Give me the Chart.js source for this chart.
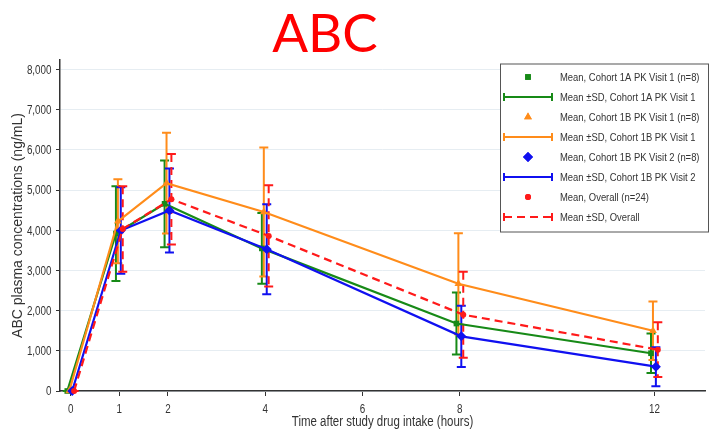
<!DOCTYPE html>
<html>
<head>
<meta charset="utf-8">
<script src="https://cdn.jsdelivr.net/npm/chart.js@4"></script>
<style>
  html, body { margin: 0; padding: 0; background: #ffffff; }
  #wrap { width: 710px; height: 432px; }
</style>
</head>
<body>
<div id="wrap"><canvas id="pk" width="710" height="432"></canvas></div>
<script>
// ---- data ----
const chartTitle = 'ABC';
const yAxisTitle = 'ABC plasma concentrations (ng/mL)';
const xAxisTitle = 'Time after study drug intake (hours)';

const timesHours = [0, 1, 2, 4, 8, 12];
const xTickValues = [0, 1, 2, 4, 6, 8, 12];
const yTickValues = [0, 1000, 2000, 3000, 4000, 5000, 6000, 7000, 8000];

const meanCohort1AVisit1 = [0, 3920, 4660, 3550, 1680, 940];
const sdCohort1AVisit1   = [0, 1180, 1080, 880, 770, 490];

const meanCohort1BVisit1 = [0, 4225, 5175, 4455, 2670, 1500];
const sdCohort1BVisit1   = [0, 1045, 1255, 1605, 1260, 730];

const meanCohort1BVisit2 = [0, 3995, 4495, 3530, 1360, 605];
const sdCohort1BVisit2   = [0, 1075, 1045, 1120, 760, 485];

const meanOverall = [0, 4035, 4775, 3860, 1900, 1030];
const sdOverall   = [0, 1065, 1125, 1260, 1070, 680];

const meanLabels = [
  'Mean, Cohort 1A PK Visit 1 (n=8)',
  'Mean, Cohort 1B PK Visit 1 (n=8)',
  'Mean, Cohort 1B PK Visit 2 (n=8)',
  'Mean, Overall (n=24)'
];
const sdLabels = [
  'Mean \u00B1SD, Cohort 1A PK Visit 1',
  'Mean \u00B1SD, Cohort 1B PK Visit 1',
  'Mean \u00B1SD, Cohort 1B PK Visit 2',
  'Mean \u00B1SD, Overall'
];

// ---- styling ----
const SANS = '"Liberation Sans", Arial, sans-serif';
const NARROW_SCALE = 0.82;
const TEXT = '#333333';
const seriesStyle = [
  { color: '#178a17', marker: 'rect',     radius: 4,   dash: [],     shift: -0.07, order: 4 },
  { color: '#ff8c1a', marker: 'triangle', radius: 4.5, dash: [],     shift: -0.03, order: 3 },
  { color: '#1010f0', marker: 'rectRot',  radius: 5,   dash: [],     shift: 0.03,  order: 2 },
  { color: '#ff1a1a', marker: 'circle',   radius: 3,   dash: [8, 5], shift: 0.07,  order: 1 }
];
const means = [meanCohort1AVisit1, meanCohort1BVisit1, meanCohort1BVisit2, meanOverall];
const sds = [sdCohort1AVisit1, sdCohort1BVisit1, sdCohort1BVisit2, sdOverall];

// condensed (narrow) text drawn by squeezing the sans face horizontally
function narrowText(ctx, text, x, y, size, align, rotate) {
  ctx.save();
  ctx.translate(x, y);
  if (rotate) ctx.rotate(rotate);
  ctx.scale(NARROW_SCALE, 1);
  ctx.font = size + 'px ' + SANS;
  ctx.textAlign = align;
  ctx.textBaseline = 'alphabetic';
  ctx.fillStyle = TEXT;
  ctx.fillText(text, 0, 0);
  ctx.restore();
}

const datasets = means.map((m, i) => {
  const s = seriesStyle[i];
  return {
    label: meanLabels[i],
    data: timesHours.map((t, j) => ({ x: t + s.shift, y: m[j] })),
    borderColor: s.color,
    backgroundColor: s.color,
    borderWidth: 2.2,
    borderDash: s.dash,
    pointStyle: s.marker,
    pointRadius: s.radius,
    pointBorderWidth: 0,
    pointBackgroundColor: s.color,
    tension: 0,
    clip: false,
    order: s.order
  };
});

// vertical mean ± SD bars with end caps
const errorBarPlugin = {
  id: 'errorBars',
  beforeDatasetsDraw(chart) {
    const ctx = chart.ctx;
    const yScale = chart.scales.y;
    ctx.save();
    for (let i = 0; i < means.length; i++) {
      const meta = chart.getDatasetMeta(i);
      const s = seriesStyle[i];
      ctx.strokeStyle = s.color;
      ctx.lineWidth = 2;
      meta.data.forEach((pt, j) => {
        const x = pt.x;
        const yHi = yScale.getPixelForValue(means[i][j] + sds[i][j]);
        const yLo = yScale.getPixelForValue(means[i][j] - sds[i][j]);
        ctx.setLineDash(s.dash);
        ctx.beginPath();
        ctx.moveTo(x, yHi);
        ctx.lineTo(x, yLo);
        ctx.stroke();
        ctx.setLineDash([]);
        ctx.beginPath();
        ctx.moveTo(x - 4.5, yHi); ctx.lineTo(x + 4.5, yHi);
        ctx.moveTo(x - 4.5, yLo); ctx.lineTo(x + 4.5, yLo);
        ctx.stroke();
      });
    }
    ctx.restore();
  }
};

// tick labels and axis titles in a condensed face
const axisTextPlugin = {
  id: 'axisText',
  afterDraw(chart) {
    const ctx = chart.ctx;
    const xs = chart.scales.x, ys = chart.scales.y;
    xTickValues.forEach(v => {
      narrowText(ctx, String(v), xs.getPixelForValue(v), 412.5, 12, 'center');
    });
    yTickValues.forEach(v => {
      narrowText(ctx, v.toLocaleString('en-US'), ys.left + 51.5, ys.getPixelForValue(v) + 4.3, 12, 'right');
    });
    narrowText(ctx, xAxisTitle, (xs.left + xs.right) / 2, 425.5, 14, 'center');
    const cy = (ys.top + ys.bottom) / 2;
    ctx.save();
    ctx.translate(22, cy);
    ctx.rotate(-Math.PI / 2);
    ctx.font = '14px ' + SANS;
    ctx.textAlign = 'center';
    ctx.textBaseline = 'alphabetic';
    ctx.fillStyle = TEXT;
    ctx.fillText(yAxisTitle, 0, 0);
    ctx.restore();
  }
};

// boxed legend: marker rows and ±SD line rows
const boxLegendPlugin = {
  id: 'boxLegend',
  afterDraw(chart) {
    const ctx = chart.ctx;
    const left = 500, top = 63.5, right = 708, bottom = 231.5;
    ctx.save();
    ctx.fillStyle = '#ffffff';
    ctx.fillRect(left, top, right - left, bottom - top);
    ctx.strokeStyle = '#555555';
    ctx.lineWidth = 1;
    ctx.strokeRect(left + 0.5, top + 0.5, right - left, bottom - top);
    for (let i = 0; i < 4; i++) {
      const s = seriesStyle[i];
      const yM = 77 + i * 40;
      const yL = yM + 20;
      ctx.fillStyle = s.color;
      Chart.helpers.drawPoint(ctx, {
        pointStyle: s.marker, radius: s.radius, borderWidth: 0, rotation: 0
      }, 528, yM);
      ctx.fill();
      ctx.strokeStyle = s.color;
      ctx.lineWidth = 2;
      ctx.setLineDash(s.dash);
      ctx.beginPath();
      ctx.moveTo(504, yL); ctx.lineTo(552, yL);
      ctx.stroke();
      ctx.setLineDash([]);
      ctx.beginPath();
      ctx.moveTo(504, yL - 4); ctx.lineTo(504, yL + 4);
      ctx.moveTo(552, yL - 4); ctx.lineTo(552, yL + 4);
      ctx.stroke();
      narrowText(ctx, meanLabels[i], 560, yM + 4.2, 11.5, 'left');
      narrowText(ctx, sdLabels[i], 560, yL + 4.2, 11.5, 'left');
    }
    ctx.restore();
  }
};

// large red heading
const headingPlugin = {
  id: 'heading',
  afterDraw(chart) {
    const ctx = chart.ctx;
    ctx.save();
    ctx.fillStyle = '#ff0000';
    ctx.font = '53px Lato, "Open Sans", sans-serif';
    ctx.textAlign = 'center';
    ctx.textBaseline = 'alphabetic';
    ctx.fillText(chartTitle, 325, 51.5);
    ctx.restore();
  }
};

new Chart(document.getElementById('pk'), {
  type: 'line',
  data: { datasets },
  options: {
    responsive: false,
    devicePixelRatio: 1,
    animation: false,
    layout: { padding: { top: 60, left: 0, right: 0, bottom: 0 } },
    plugins: { legend: { display: false }, tooltip: { enabled: false }, title: { display: false } },
    scales: {
      x: {
        type: 'linear',
        min: -0.22,
        max: 13.04,
        afterBuildTicks(scale) { scale.ticks = xTickValues.map(v => ({ value: v })); },
        afterFit(scale) { scale.height = 41; },
        grid: { drawOnChartArea: false, drawTicks: true, tickLength: 5, tickColor: TEXT, tickWidth: 1 },
        border: { color: TEXT, width: 1.5 },
        ticks: { display: false },
        title: { display: false }
      },
      y: {
        type: 'linear',
        min: 0,
        max: 8240,
        afterBuildTicks(scale) { scale.ticks = yTickValues.map(v => ({ value: v })); },
        afterFit(scale) { scale.width = 60; },
        grid: { color: '#e6edf2', lineWidth: 1, drawTicks: true, tickLength: 4, tickColor: TEXT },
        border: { color: TEXT, width: 1.5 },
        ticks: { display: false },
        title: { display: false }
      }
    }
  },
  plugins: [errorBarPlugin, axisTextPlugin, boxLegendPlugin, headingPlugin]
});
</script>
</body>
</html>
